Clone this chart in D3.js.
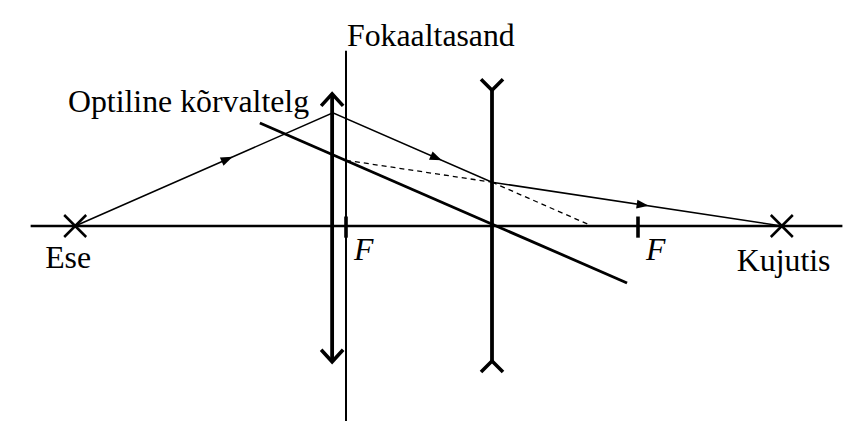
<!DOCTYPE html>
<html>
<head>
<meta charset="utf-8">
<script src="https://cdn.jsdelivr.net/npm/d3@7"></script>
<style>
  body { margin: 0; background: #fff; }
  text { font-family: "Liberation Serif", "Times New Roman", serif; font-size: 31.8px; fill: #000; }
</style>
</head>
<body>
<script>
// units: diverging lens at x = 0, focal length 10
const opticalAxis = [-31.6, 24.0]
const focusPoints = [-10, 10]
const convergingLens = { x: -10.95, top: 9.05, bottom: -9.3 }
const divergingLens = { x: 0, top: 9.3, bottom: -9.25 }
const focalPlane = { x: -10, top: 12.0, bottom: -13.35 }
const sideAxis = [[-15.9, 7.05], [9.25, -3.9]]
const rayPoints = [[-28.55, 0], [-10.9, 7.75], [0, 3.0], [19.85, 0]]
const rayArrowAt = [0.59, 0.65, 0.52]
const dashedLines = [
	[[-10, 4.5], [0, 3.0]],
	[[0, 3.0], [6.85, 0]]
]
const objectX = -28.55
const imageX = 19.85

const W = 859, H = 430

const x = d3.scaleLinear().domain([-10, 10]).range([346, 638])
const y = d3.scaleLinear().domain([0, 10]).range([226, 80])

const svg = d3.select('body').append('svg').attr('width', W).attr('height', H)
const line = d3.line().x((d) => x(d[0])).y((d) => y(d[1]))

// optical axis
svg.append('path')
	.attr('d', line([[opticalAxis[0], 0], [opticalAxis[1], 0]]))
	.attr('stroke', '#000').attr('stroke-width', 2.6).attr('fill', 'none')

// focal plane
svg.append('path')
	.attr('d', line([[focalPlane.x, focalPlane.top], [focalPlane.x, focalPlane.bottom]]))
	.attr('stroke', '#000').attr('stroke-width', 2).attr('fill', 'none')

// focus ticks
svg.selectAll('path.tick')
	.data(focusPoints)
	.enter().append('path')
		.attr('class', 'tick')
		.attr('d', (d) => line([[d, 0.65], [d, -0.8]]))
		.attr('stroke', '#000').attr('stroke-width', 3.6)

// converging lens
const cx = x(convergingLens.x)
svg.append('path')
	.attr('d', line([[convergingLens.x, convergingLens.top], [convergingLens.x, convergingLens.bottom]]))
	.attr('stroke', '#000').attr('stroke-width', 3.8).attr('fill', 'none')
svg.append('path')
	.attr('d', `M${cx - 11},${y(convergingLens.top) + 12}L${cx},${y(convergingLens.top)}L${cx + 11},${y(convergingLens.top) + 12}`
		+ `M${cx - 11},${y(convergingLens.bottom) - 12}L${cx},${y(convergingLens.bottom)}L${cx + 11},${y(convergingLens.bottom) - 12}`)
	.attr('stroke', '#000').attr('stroke-width', 3.6).attr('fill', 'none')

// diverging lens
const dx = x(divergingLens.x)
svg.append('path')
	.attr('d', line([[divergingLens.x, divergingLens.top], [divergingLens.x, divergingLens.bottom]]))
	.attr('stroke', '#000').attr('stroke-width', 3.8).attr('fill', 'none')
svg.append('path')
	.attr('d', `M${dx - 11},${y(divergingLens.top) - 11}L${dx},${y(divergingLens.top)}L${dx + 11},${y(divergingLens.top) - 11}`
		+ `M${dx - 11},${y(divergingLens.bottom) + 11}L${dx},${y(divergingLens.bottom)}L${dx + 11},${y(divergingLens.bottom) + 11}`)
	.attr('stroke', '#000').attr('stroke-width', 3.6).attr('fill', 'none')

// secondary optical axis
svg.append('path')
	.attr('d', line(sideAxis))
	.attr('stroke', '#000').attr('stroke-width', 2.8).attr('fill', 'none')

// dashed construction lines
svg.selectAll('path.dash')
	.data(dashedLines)
	.enter().append('path')
		.attr('class', 'dash')
		.attr('d', line)
		.attr('stroke', '#000').attr('stroke-width', 1.3).attr('stroke-dasharray', '5,4').attr('fill', 'none')

// ray
svg.append('path')
	.attr('d', line(rayPoints))
	.attr('stroke', '#000').attr('stroke-width', 1.5).attr('fill', 'none')

// ray arrows
rayArrowAt.forEach((t, i) => {
	const a = rayPoints[i], b = rayPoints[i + 1]
	const px = x(a[0]) + (x(b[0]) - x(a[0])) * t
	const py = y(a[1]) + (y(b[1]) - y(a[1])) * t
	const ang = Math.atan2(y(b[1]) - y(a[1]), x(b[0]) - x(a[0])) * 180 / Math.PI
	svg.append('path')
		.attr('d', 'M6,0L-6,-4.5L-6,4.5Z')
		.attr('transform', `translate(${px},${py}) rotate(${ang})`)
		.attr('fill', '#000')
})

// object and image crosses
svg.selectAll('path.cross')
	.data([objectX, imageX])
	.enter().append('path')
		.attr('class', 'cross')
		.attr('d', (d) => `M${x(d) - 11},${y(0) - 11}L${x(d) + 11},${y(0) + 11}M${x(d) - 11},${y(0) + 11}L${x(d) + 11},${y(0) - 11}`)
		.attr('stroke', '#000').attr('stroke-width', 2.5)

// labels
svg.append('text').attr('x', x(focalPlane.x) + 1).attr('y', 46).text('Fokaaltasand')
svg.append('text').attr('x', 68).attr('y', 112).text('Optiline kõrvaltelg')
svg.append('text').attr('x', x(objectX) - 30).attr('y', 268).text('Ese')
svg.append('text').attr('x', x(imageX) - 45).attr('y', 271).text('Kujutis')
svg.selectAll('text.f')
	.data(focusPoints)
	.enter().append('text')
		.attr('class', 'f')
		.attr('x', (d) => x(d) + 8)
		.attr('y', 260)
		.attr('font-style', 'italic')
		.text('F')
</script>
</body>
</html>
